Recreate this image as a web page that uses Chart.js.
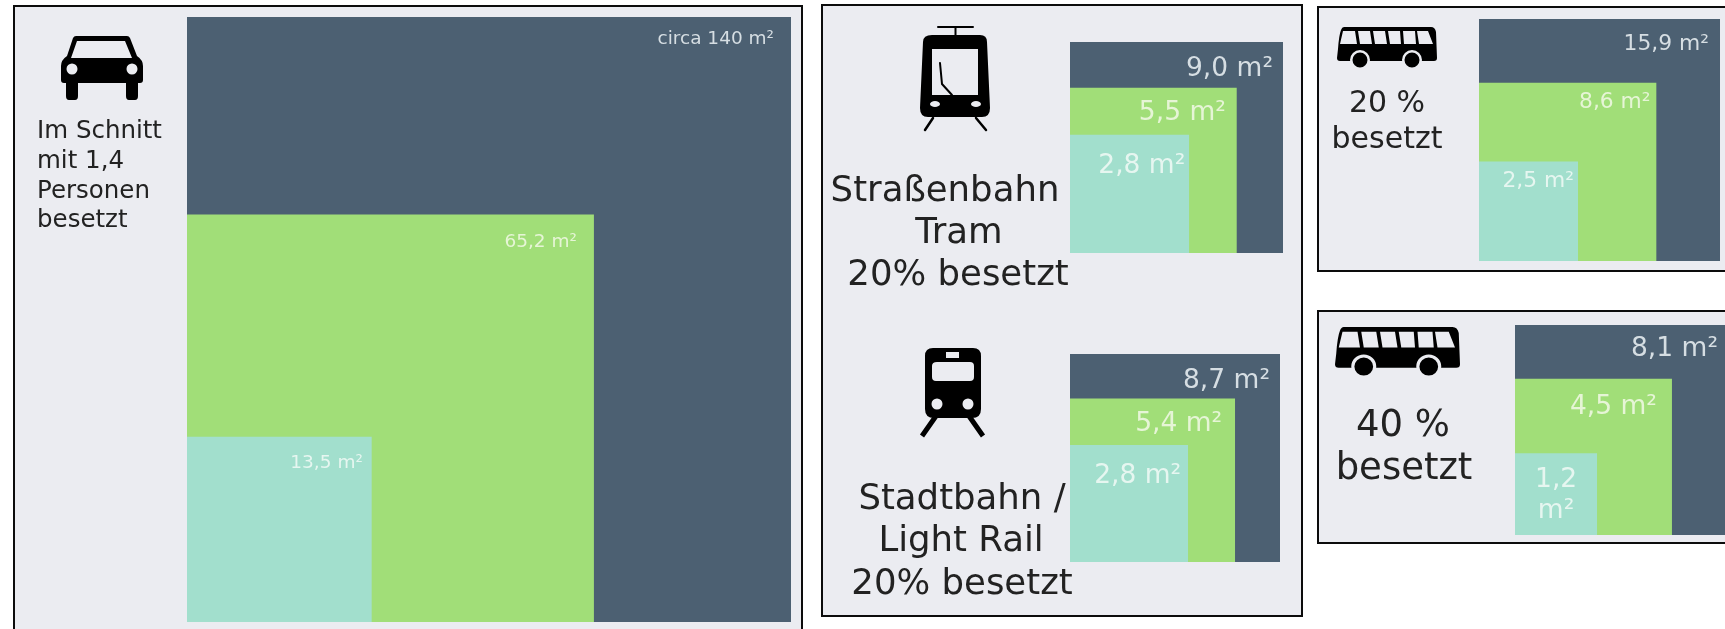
<!DOCTYPE html>
<html lang="de">
<head>
<meta charset="utf-8">
<title>Flächenverbrauch pro Person</title>
<script src="https://cdn.jsdelivr.net/npm/chart.js@4"></script>
<style>
  html, body { margin: 0; background: #fff; width: 1725px; height: 629px; overflow: hidden; }
  .panel { position: absolute; box-sizing: border-box; background: #ebecf1; border: 2px solid #0c0c0c; }
  /* the source is an upscaled raster, everything inside the frames is a little soft */
  canvas { position: absolute; left: 0; top: 0; filter: blur(0.5px); }
</style>
</head>
<body>
<div class="panel" style="left:13px;top:5px;width:790px;height:640px"></div>
<div class="panel" style="left:821px;top:4px;width:482px;height:613px"></div>
<div class="panel" style="left:1317px;top:6px;width:430px;height:266px"></div>
<div class="panel" style="left:1317px;top:310px;width:430px;height:234px"></div>
<canvas id="car" width="1740" height="629"></canvas>
<canvas id="tram" width="1740" height="629"></canvas>
<canvas id="lightRail" width="1740" height="629"></canvas>
<canvas id="bus20" width="1740" height="629"></canvas>
<canvas id="bus40" width="1740" height="629"></canvas>
<script>
// Square sides in metres as measured in the picture, outermost square first.
// They follow the printed areas only roughly, so both are kept.
const squareNames = ["Außen", "Mitte", "Innen"];
const carSides = [11.83, 7.97, 3.62];
const tramSides = [3.0, 2.35, 1.68];
const lightRailSides = [2.95, 2.32, 1.66];
const bus20Sides = [3.99, 2.94, 1.64];
const bus40Sides = [2.85, 2.12, 1.11];

const carLabels = ["circa 140 m²", "65,2 m²", "13,5 m²"];
const tramLabels = ["9,0 m²", "5,5 m²", "2,8 m²"];
const lightRailLabels = ["8,7 m²", "5,4 m²", "2,8 m²"];
const bus20Labels = ["15,9 m²", "8,6 m²", "2,5 m²"];
const bus40Labels = ["8,1 m²", "4,5 m²", "1,2\nm²"];

const SQUARE_COLORS = ["#4c6072", "#a1de78", "#a2dfcd"];
const LABEL_COLORS = ["#d6dee3", "#e6f5d6", "#e6f6f0"];
const PANEL_BG = "#ebecf1";
const TEXT_COLOR = "#222";
const FONT = '"DejaVu Sans"';

const circle = (x, y, r) => `M${x - r},${y}a${r},${r} 0 1,0 ${2 * r},0a${r},${r} 0 1,0 ${-2 * r},0Z`;

// Icons are traced in page coordinates; holes come from the evenodd fill.
const carIcon = (ctx) => {
  ctx.fill(new Path2D(
    "M76,36L127,36Q129,36 130,38L137,56Q143,60 143,66L143,80Q143,83 140,83L64,83Q61,83 61,80L61,66Q61,60 67,56L73,38Q74,36 76,36Z" +
    "M77,41L125,41L132,58L71,58Z" + circle(72, 69, 5.5) + circle(132, 69, 5.5) +
    "M66,83L78,83L78,96Q78,100 75,100L69,100Q66,100 66,96Z" +
    "M126,83L138,83L138,96Q138,100 135,100L129,100Q126,100 126,96Z"), "evenodd");
};

const tramIcon = (ctx) => {
  ctx.fill(new Path2D(
    "M932,35L980,35Q987,35 987,42L990,108Q990,117 982,117L928,117Q920,117 920,108L923,42Q923,35 932,35Z" +
    "M932,49L978,49L978,95L932,95Z" +
    "M930,104a5,3 0 1,0 10,0a5,3 0 1,0 -10,0Z" + "M971,104a5,3 0 1,0 10,0a5,3 0 1,0 -10,0Z"), "evenodd");
  ctx.lineWidth = 2;
  ctx.lineCap = "round";
  ctx.stroke(new Path2D("M938,27L973,27M955.5,27L955.5,36M940,63L942,84L952,95"));
  ctx.lineWidth = 2.5;
  ctx.stroke(new Path2D("M933,118L925,130M976,118L986,130"));
};

const lightRailIcon = (ctx) => {
  ctx.fill(new Path2D(
    "M933,348L973,348Q981,348 981,356L981,409Q981,418 972,418L934,418Q925,418 925,409L925,356Q925,348 933,348Z" +
    "M937,362L970,362Q974,362 974,366L974,377Q974,381 970,381L936,381Q932,381 932,377L932,366Q932,362 937,362Z" +
    "M946,352L959,352L959,358L946,358Z" + circle(937, 404, 5.5) + circle(968, 404, 5.5)), "evenodd");
  ctx.lineWidth = 5;
  ctx.stroke(new Path2D("M936,416L922,436M969,416L983,436"));
};

// Bus outline at the size of the 20 % icon, the 40 % icon is a scaled copy of it.
const busIcon = (x, y, sx, sy) => (ctx) => {
  ctx.save();
  ctx.translate(x, y);
  ctx.scale(sx, sy);
  ctx.fill(new Path2D(
    "M7,0L94,0Q98,0 99,5L100,31Q100,34 97,34L3,34Q0,34 0,31L1,22Q2,8 4,3Q5,0 7,0Z" +
    "M6,4L18,4L20,17L3,17Z" + "M21,4L33,4L35,17L23,17Z" + "M36,4L48,4L50,17L38,17Z" +
    "M51,4L63,4L64,17L53,17Z" + "M66,4L78,4L79,17L67,17Z" + "M80,4L91,4L96,17L82,17Z"), "evenodd");
  ctx.fillStyle = PANEL_BG;
  ctx.fill(new Path2D(circle(23, 33, 10) + circle(75, 33, 10)));
  ctx.fillStyle = "#000";
  ctx.fill(new Path2D(circle(23, 33, 7.5) + circle(75, 33, 7.5)));
  ctx.restore();
};

// Caption lines, icon and the value label inside each square.
const panelTextPlugin = {
  id: "panelText",
  afterDatasetsDraw(chart, _args, opts) {
    const {ctx} = chart;
    const {x, y} = chart.scales;
    ctx.save();
    ctx.fillStyle = "#000";
    ctx.strokeStyle = "#000";
    opts.icon(ctx);
    ctx.restore();

    ctx.save();
    ctx.fillStyle = TEXT_COLOR;
    ctx.textBaseline = "alphabetic";
    ctx.font = `${opts.captionSize}px ${FONT}`;
    ctx.textAlign = opts.captionAlign;
    opts.caption.forEach(([text, tx, ty]) => ctx.fillText(text, tx, ty));

    ctx.font = `${opts.labelSize}px ${FONT}`;
    chart.data.datasets.forEach((ds, i) => {
      const right = x.getPixelForValue(ds.data[1].x);
      const top = y.getPixelForValue(ds.data[1].y);
      const [inset, drop] = opts.labelOffsets[i];
      const lines = opts.labels[i].split("\n");
      ctx.fillStyle = LABEL_COLORS[i];
      // a label too wide for its square wraps and sits centred
      ctx.textAlign = lines.length > 1 ? "center" : "right";
      const lx = lines.length > 1 ? (x.getPixelForValue(0) + right) / 2 : right - inset;
      lines.forEach((line, n) => ctx.fillText(line, lx, top + drop + n * opts.labelSize * 1.17));
    });
    ctx.restore();
  },
};

const drawPanel = (id, sides, labels, box, text) => {
  new Chart(document.getElementById(id), {
    type: "line",
    data: {
      // each square is a flat top edge filled down to the x axis
      datasets: sides.map((side, i) => ({
        label: squareNames[i],
        data: [{x: 0, y: side}, {x: side, y: side}],
        borderWidth: 0,
        pointRadius: 0,
        backgroundColor: SQUARE_COLORS[i],
        fill: "origin",
        order: -i,
      })),
    },
    options: {
      responsive: false,
      animation: false,
      devicePixelRatio: 1,
      layout: {padding: {left: box.left, top: box.top, right: 1740 - box.right, bottom: 629 - box.bottom}},
      scales: {
        x: {type: "linear", display: false, min: 0, max: sides[0]},
        y: {type: "linear", display: false, min: 0, max: sides[0]},
      },
      plugins: {
        legend: {display: false},
        tooltip: {enabled: false},
        panelText: {labels, ...text},
      },
    },
    plugins: [panelTextPlugin],
  });
};

drawPanel("car", carSides, carLabels, {left: 187, top: 17, right: 791, bottom: 622}, {
  icon: carIcon,
  caption: [["Im Schnitt", 37, 138], ["mit 1,4", 37, 168], ["Personen", 37, 198], ["besetzt", 37, 227]],
  captionSize: 24.5,
  captionAlign: "left",
  labelSize: 18.5,
  labelOffsets: [[17, 27], [17, 33], [9, 31]],
});
drawPanel("tram", tramSides, tramLabels, {left: 1070, top: 42, right: 1283, bottom: 253}, {
  icon: tramIcon,
  caption: [["Straßenbahn", 945, 201], ["Tram", 959, 243], ["20% besetzt", 958, 285]],
  captionSize: 35.5,
  captionAlign: "center",
  labelSize: 26.5,
  labelOffsets: [[10, 34], [11, 32], [4, 38]],
});
drawPanel("lightRail", lightRailSides, lightRailLabels, {left: 1070, top: 354, right: 1280, bottom: 562}, {
  icon: lightRailIcon,
  caption: [["Stadtbahn /", 962, 509], ["Light Rail", 961, 551], ["20% besetzt", 962, 594]],
  captionSize: 35.5,
  captionAlign: "center",
  labelSize: 26.5,
  labelOffsets: [[10, 34], [13, 33], [7, 38]],
});
drawPanel("bus20", bus20Sides, bus20Labels, {left: 1479, top: 19, right: 1720, bottom: 261}, {
  icon: busIcon(1337, 27, 1, 1),
  caption: [["20 %", 1387, 112], ["besetzt", 1387, 148]],
  captionSize: 30,
  captionAlign: "center",
  labelSize: 21.8,
  labelOffsets: [[11, 31], [6, 25], [4, 25]],
});
drawPanel("bus40", bus40Sides, bus40Labels, {left: 1515, top: 325, right: 1726, bottom: 535}, {
  icon: busIcon(1335, 327, 1.25, 1.2),
  caption: [["40 %", 1403, 436], ["besetzt", 1404, 479]],
  captionSize: 37,
  captionAlign: "center",
  labelSize: 26.5,
  labelOffsets: [[8, 31], [15, 35], [0, 34]],
});
</script>
</body>
</html>
